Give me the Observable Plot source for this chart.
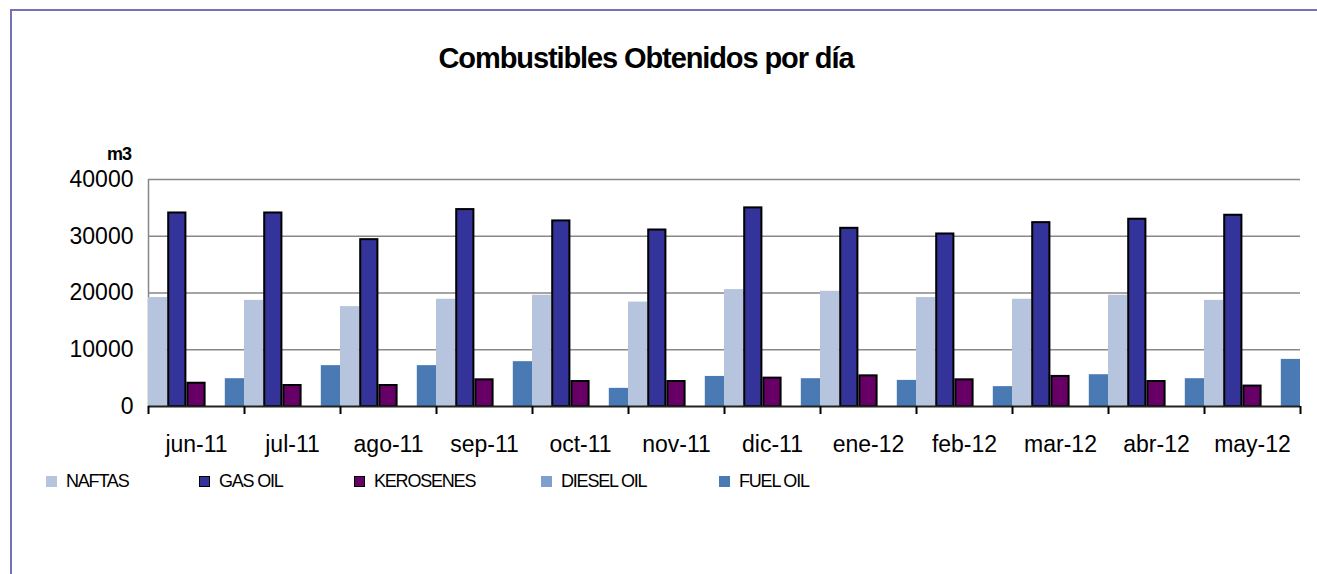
<!DOCTYPE html>
<html>
<head>
<meta charset="utf-8">
<script src="https://cdn.jsdelivr.net/npm/d3@7"></script>
<script src="https://cdn.jsdelivr.net/npm/@observablehq/plot@0.6"></script>
<style>
  html, body { margin: 0; padding: 0; background: #fff; }
  body { width: 1317px; height: 574px; position: relative; overflow: hidden; font-family: "Liberation Sans", Arial, sans-serif; }
  #frame { position: absolute; left: 10px; top: 9px; right: 0; bottom: -5px; border-left: 2px solid #7474b4; border-top: 2px solid #7474b4; }
  #title { position: absolute; left: 0; width: 1292px; top: 42px; text-align: center; font-weight: bold; font-size: 29px; letter-spacing: -1.1px; color: #000; }
  #unit { position: absolute; left: 107px; top: 144px; font-weight: bold; font-size: 18px; letter-spacing: -1px; }
  #chart { position: absolute; left: 0; top: 0; }
  .leg { position: absolute; top: 471px; font-size: 18px; letter-spacing: -1.2px; color: #000; display: flex; align-items: center; }
  .sw { width: 11px; height: 11px; box-sizing: border-box; margin-right: 9px; }
</style>
</head>
<body>
<div id="frame"></div>
<div id="title">Combustibles Obtenidos por día</div>
<div id="unit">m3</div>
<div id="chart"></div>
<div id="legend"></div>
<script>
const months = ["jun-11","jul-11","ago-11","sep-11","oct-11","nov-11","dic-11","ene-12","feb-12","mar-12","abr-12","may-12"];
const seriesNames = ["NAFTAS","GAS OIL","KEROSENES","DIESEL OIL","FUEL OIL"];
const naftas    = [19200,18700,17600,18900,19600,18400,20600,20300,19200,18900,19600,18700];
const gasOil    = [34100,34100,29400,34700,32700,31100,35000,31400,30400,32400,33000,33700];
const kerosenes = [4100,3700,3700,4700,4400,4400,5000,5400,4700,5300,4400,3600];
const dieselOil = [0,0,0,0,0,0,0,0,0,0,0,0];
const fuelOil   = [4900,7200,7200,7900,3200,5300,4900,4600,3500,5600,4900,8300];
const yTicks = [0,10000,20000,30000,40000];

const colors = {"NAFTAS":"#b7c4de","GAS OIL":"#333399","KEROSENES":"#660066","DIESEL OIL":"#7f9fcf","FUEL OIL":"#4a7ab3"};
const stroked = {"GAS OIL":true,"KEROSENES":true};

const valuesBySeries = [naftas, gasOil, kerosenes, dieselOil, fuelOil];
const rows = [];
months.forEach((m, i) => seriesNames.forEach((s, j) => rows.push({key: m + "|" + s, month: m, series: s, value: valuesBySeries[j][i]})));
const keys = rows.map(d => d.key);
const firstKeys = months.map(m => m + "|NAFTAS");
const midKeys = months.map(m => m + "|KEROSENES");
const lastKey = months[months.length-1] + "|FUEL OIL";

const width = 1317, height = 470;
const mL = 148, mR = 17;
const bw = (width - mL - mR) / keys.length;

const plot = Plot.plot({
  width, height,
  marginLeft: mL, marginRight: mR, marginTop: 179, marginBottom: 64,
  style: {fontFamily: "'Liberation Sans', Arial, sans-serif", color: "#000", background: "transparent"},
  x: {domain: keys, padding: 0, round: false, axis: null},
  y: {domain: [0, 40000], axis: null},
  marks: [
    Plot.ruleY(yTicks.filter(t => t > 0), {stroke: "#878787", strokeWidth: 1.5}),
    Plot.ruleX([firstKeys[0]], {dx: -bw / 2, y1: 0, y2: 40000, stroke: "#878787", strokeWidth: 1.5}),
    Plot.barY(rows.filter(d => !stroked[d.series]), {x: "key", y: "value", fill: d => colors[d.series], insetLeft: 0, insetRight: 0}),
    Plot.barY(rows.filter(d => stroked[d.series]), {x: "key", y: "value", fill: d => colors[d.series], stroke: "#000", strokeWidth: 2, insetLeft: 1, insetRight: 1}),
    Plot.ruleY([0], {stroke: "#222", strokeWidth: 2}),
    Plot.ruleX(firstKeys, {dx: -bw / 2, y1: 0, y2: 0, insetBottom: -8, stroke: "#000", strokeWidth: 2}),
    Plot.ruleX([lastKey], {dx: bw / 2, y1: 0, y2: 0, insetBottom: -8, stroke: "#000", strokeWidth: 2}),
    Plot.axisY(yTicks, {label: null, tickSize: 0, tickPadding: 15, fontSize: 23, tickFormat: d => String(d)}),
    Plot.axisX(midKeys, {label: null, tickSize: 0, tickPadding: 29, fontSize: 23, tickFormat: k => k.split("|")[0]})
  ]
});
document.getElementById("chart").appendChild(plot);

const legendX = [46, 199, 354, 541, 719];
const legend = document.getElementById("legend");
seriesNames.forEach((s, j) => {
  const item = document.createElement("div");
  item.className = "leg";
  item.style.left = legendX[j] + "px";
  const sw = document.createElement("div");
  sw.className = "sw";
  sw.style.background = colors[s];
  if (stroked[s]) sw.style.border = "1.5px solid #000";
  item.appendChild(sw);
  const t = document.createElement("span");
  t.textContent = s;
  item.appendChild(t);
  legend.appendChild(item);
});
</script>
</body>
</html>
